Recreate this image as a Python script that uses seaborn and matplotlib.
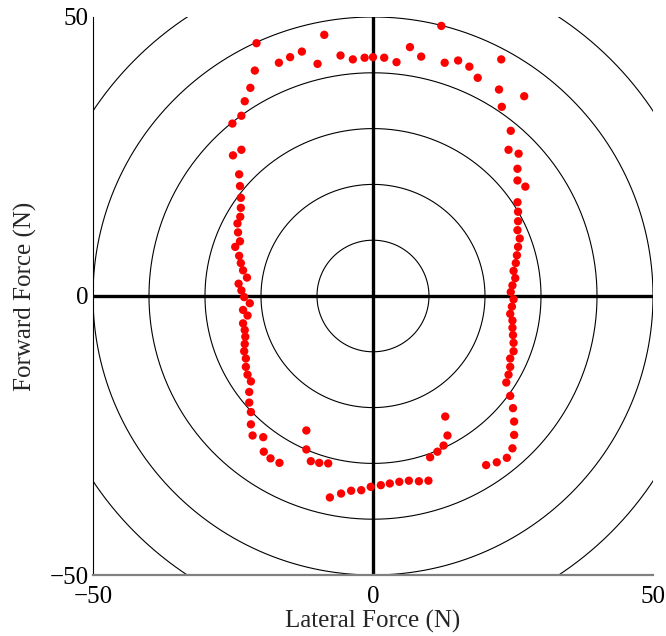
import numpy as np
import pandas as pd
import matplotlib
matplotlib.use("Agg")
import matplotlib.pyplot as plt
import seaborn as sns

# Lateral (x) and forward (y) force samples, in N
lateral = [
    -20.8, -8.7, 12.2, -16.8, -14.8, -12.7, -9.9, -5.8, -3.6, -1.5, 0.0, 2.0, 4.2, 6.6, 8.6,
    12.8, 15.2, 17.2, 18.7, 22.9, 22.5, 27.0, 23.0, 24.6,
    -21.1, -21.9, -22.9, -23.5, -25.1,
    -23.5, -25.0, -23.9, -23.75, -23.6, -23.6, -23.7, -24.2, -24.1, -23.75, -24.6, -23.9,
    -23.6, -23.2, -22.5, -24.0, -23.5, -23.0, -22.0, -23.2, -22.4, -23.2, -22.9, -22.8,
    -22.9, -23.0, -22.7, -22.7, -22.4, -21.8, -22.1, -22.1, -21.8, -21.8, -21.5, -19.6,
    -19.5, -18.3, -11.9, -11.9,
    -16.7, -11.1, -9.6, -8.0, -7.7, -5.7, -3.9, -2.1, -0.4, 1.4, 3.0, 4.7, 6.4, 8.2, 9.9,
    10.2, 11.5, 12.6, 13.3, 12.9, 20.2, 22.1, 23.9, 24.9, 25.2, 25.2, 25.0,
    24.2, 26.0, 25.8, 25.8, 27.2, 25.8, 25.9, 25.9, 25.8, 26.2, 25.9, 25.7, 25.5, 25.1,
    25.4, 24.9, 24.6, 25.1, 24.8, 24.5, 24.9, 24.9, 25.0, 25.1, 25.1, 24.5, 24.5, 24.2,
    23.8, 24.5,
]
forward = [
    45.3, 46.8, 48.4, 41.8, 42.8, 43.8, 41.6, 43.1, 42.4, 42.7, 42.8, 42.7, 41.9, 44.6, 42.9,
    41.8, 42.2, 41.1, 39.1, 42.4, 37.0, 35.8, 33.9, 29.6,
    40.4, 37.3, 34.9, 32.3, 30.9,
    26.2, 25.2, 21.8, 19.7, 17.6, 15.8, 14.2, 13.0, 11.4, 9.8, 8.8, 7.2,
    5.9, 4.6, 3.3, 2.2, 1.0, -0.2, -1.3, -2.5, -3.5, -4.9, -6.1, -7.3,
    -8.6, -9.9, -11.2, -12.7, -14.1, -15.3, -17.2, -19.1, -20.8, -23.0, -25.0, -25.3,
    -27.9, -29.1, -24.1, -27.5,
    -29.9, -29.6, -29.9, -30.0, -36.1, -35.4, -34.9, -34.8, -34.2, -33.9, -33.6, -33.3, -33.1, -33.2, -33.1,
    -28.9, -27.9, -26.8, -25.0, -21.6, -30.3, -29.8, -29.0, -27.3, -24.9, -22.5, -20.1,
    26.2, 25.5, 22.8, 20.7, 19.6, 16.8, 15.1, 13.4, 11.8, 10.3, 8.8, 7.3, 5.9, 4.5,
    3.2, 1.9, 0.7, -0.6, -1.9, -3.2, -4.4, -5.7, -7.0, -8.4, -9.9, -11.2, -12.7, -14.1,
    -15.5, -17.9,
]
ring_radii = [10, 20, 30, 40, 50, 60]
tick_values = [-50, 0, 50]

df = pd.DataFrame({"Lateral": lateral, "Forward": forward})

sns.set_style("white")
plt.rcParams["font.family"] = ["Liberation Serif", "DejaVu Serif"]
plt.rcParams["axes.unicode_minus"] = True

fig = plt.figure(figsize=(6.66, 6.36), dpi=100)
ax = fig.add_axes([0.1396, 0.0959, 0.8409, 0.8774])

theta = np.linspace(0, 2 * np.pi, 721)
for r in ring_radii:
    ax.plot(r * np.cos(theta), r * np.sin(theta), color="black", lw=0.8, zorder=1)

ax.axhline(0, color="black", lw=2.4, zorder=2)
ax.axvline(0, color="black", lw=2.4, zorder=2)

sns.scatterplot(data=df, x="Lateral", y="Forward", ax=ax, color="red",
                s=36, edgecolor="none", zorder=3)

ax.set_xlim(-50, 50)
ax.set_ylim(-50, 50)
ax.set_xticks(tick_values)
ax.set_yticks(tick_values)
ax.set_xticklabels([f"{v}".replace("-", "\u2212") for v in tick_values])
ax.set_yticklabels([f"{v}".replace("-", "\u2212") for v in tick_values])
ax.tick_params(direction="in", length=4, width=0.8, labelsize=18, colors="black")
ax.tick_params(axis="x", pad=8)
ax.tick_params(axis="y", pad=3)
ax.set_xlabel("Lateral Force (N)", fontsize=18, labelpad=1)
ax.set_ylabel("Forward Force (N)", fontsize=18, labelpad=9)

for side in ["top", "right"]:
    ax.spines[side].set_visible(False)
ax.spines["left"].set_color("black")
ax.spines["left"].set_linewidth(0.8)
ax.spines["bottom"].set_color("#808080")
ax.spines["bottom"].set_linewidth(1.6)

fig.savefig("out.png", dpi=100)
